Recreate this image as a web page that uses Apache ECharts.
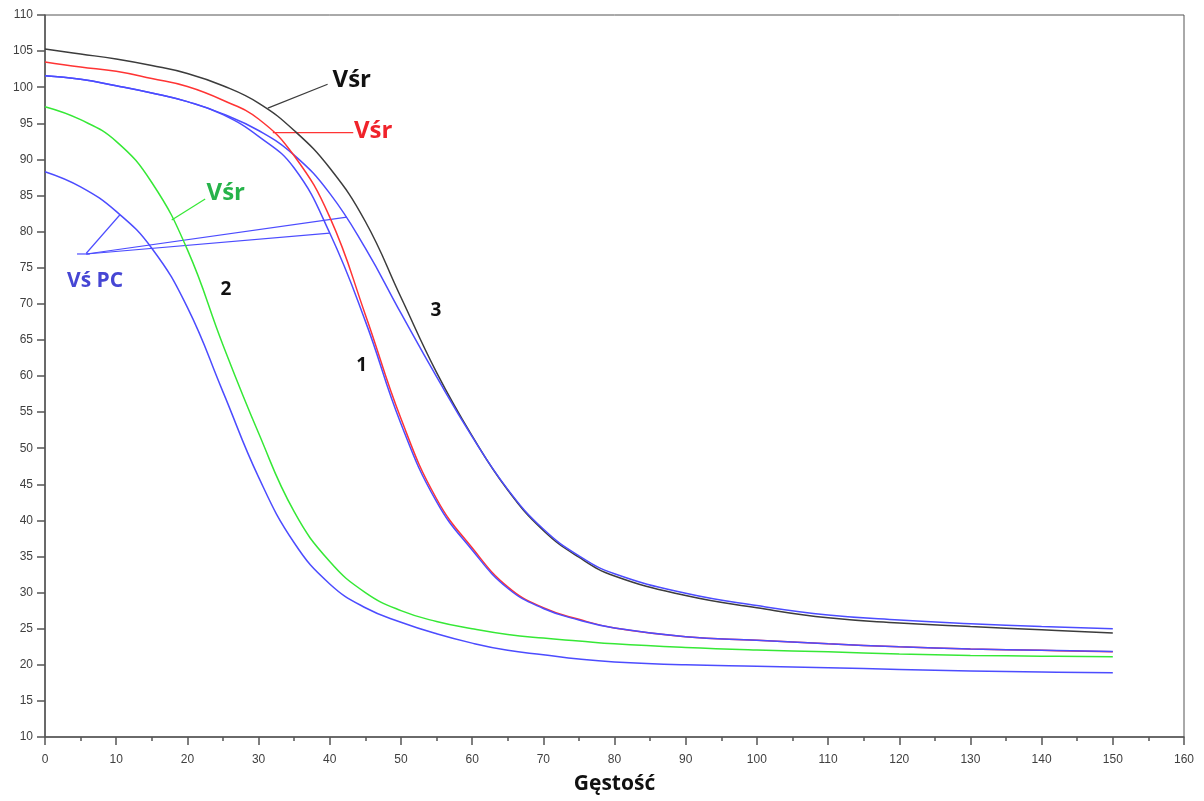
<!DOCTYPE html>
<html>
<head>
<meta charset="utf-8">
<title>Gęstość</title>
<script src="https://cdn.jsdelivr.net/npm/echarts@6/dist/echarts.min.js"></script>
<style>
  html, body { margin: 0; padding: 0; background: #fff; overflow: hidden; }
  #chart { width: 1204px; height: 801px; }
</style>
</head>
<body>
<div id="chart"></div>
<script>
// gęstość (x)
const xVals = [0, 5, 10, 15, 20, 25, 30, 35, 40, 45, 50, 55, 60, 65, 70, 75, 80, 90, 100, 110, 120, 130, 140, 150]

// curve 3
const vsr3 = [105.3, 104.6, 103.9, 103.0, 101.9, 100.2, 97.8, 94.0, 88.8, 81.4, 70.9, 60.5, 51.7, 44.2, 38.6, 34.9, 32.3, 29.6, 27.9, 26.5, 25.8, 25.3, 24.85, 24.4]
const vspc3 = [101.6, 101.1, 100.2, 99.2, 98.0, 96.3, 94.0, 90.6, 85.3, 77.7, 68.7, 59.9, 51.6, 44.3, 38.8, 35.1, 32.6, 29.9, 28.2, 26.9, 26.2, 25.7, 25.3, 25.0]
// curve 1
const vsr1 = [103.5, 102.8, 102.2, 101.2, 100.1, 98.2, 95.6, 90.5, 82.0, 68.5, 54.1, 43.0, 36.2, 30.8, 27.9, 26.3, 25.1, 23.9, 23.4, 22.9, 22.5, 22.2, 22.0, 21.8]
const vspc1 = [101.6, 101.1, 100.2, 99.2, 98.0, 96.2, 93.2, 88.8, 79.8, 67.6, 53.4, 42.6, 35.9, 30.6, 27.8, 26.2, 25.1, 23.9, 23.4, 22.9, 22.5, 22.2, 22.0, 21.85]
// curve 2
const vsr2 = [97.3, 95.5, 92.5, 86.8, 77.5, 64.3, 52.1, 41.2, 34.3, 30.0, 27.5, 26.0, 25.0, 24.2, 23.7, 23.3, 22.9, 22.4, 22.05, 21.8, 21.5, 21.3, 21.2, 21.1]
const vspc2 = [88.3, 86.2, 82.8, 77.7, 69.5, 57.8, 46.0, 36.9, 31.2, 27.9, 25.9, 24.3, 23.0, 22.0, 21.4, 20.8, 20.4, 20.0, 19.8, 19.6, 19.35, 19.15, 19.0, 18.9]

const BLACK = '#3c3c3c'
const RED = '#ff3434'
const BLUE = '#4c4cff'
const GREEN = '#36e836'

const pairs = ys => xVals.map((x, i) => [x, ys[i]])

function curve(name, ys, color) {
    return {
        name: name,
        type: 'line',
        data: pairs(ys),
        showSymbol: false,
        smooth: 0.45,
        lineStyle: { color: color, width: 1.5 },
        silent: true
    }
}

const axisFont = { color: '#3f3f3f', fontSize: 12, fontFamily: 'Liberation Sans' }

const option = {
    animation: false,
    backgroundColor: '#fff',
    grid: { left: 45, top: 15, width: 1139, height: 722, show: true, borderColor: '#555', borderWidth: 1 },
    xAxis: {
        type: 'value',
        min: 0, max: 160, interval: 10,
        name: 'Gęstość',
        nameLocation: 'middle',
        nameGap: 37,
        nameTextStyle: { fontSize: 21, fontWeight: 'bold', color: '#111', fontFamily: 'Open Sans' },
        axisLine: { lineStyle: { color: '#555', width: 1.5 } },
        axisTick: { length: 8, lineStyle: { color: '#555', width: 1.5 } },
        minorTick: { show: true, splitNumber: 2, length: 4, lineStyle: { color: '#555', width: 1.5 } },
        axisLabel: Object.assign({ margin: 17 }, axisFont),
        splitLine: { show: false }
    },
    yAxis: {
        type: 'value',
        min: 10, max: 110, interval: 5,
        axisLine: { show: true, lineStyle: { color: '#555', width: 1.5 } },
        axisTick: { show: true, length: 8, lineStyle: { color: '#555', width: 1.5 } },
        axisLabel: Object.assign({ margin: 12 }, axisFont),
        splitLine: { show: false }
    },
    series: [
        curve('Vśr 3', vsr3, BLACK),
        curve('Vś PC 3', vspc3, BLUE),
        curve('Vśr 1', vsr1, RED),
        curve('Vś PC 1', vspc1, BLUE),
        curve('Vśr 2', vsr2, GREEN),
        curve('Vś PC 2', vspc2, BLUE)
    ]
}

const chart = echarts.init(document.getElementById('chart'))
chart.setOption(option)

// annotations, anchored in data coordinates
const leaders = [
    { color: BLACK, from: [31.3, 97.1], to: [39.7, 100.4] },
    { color: RED, from: [32.0, 93.7], to: [43.3, 93.7] },
    { color: GREEN, from: [17.8, 81.6], to: [22.5, 84.5] },
    { color: BLUE, from: [4.5, 76.9], to: [6.3, 76.9] },
    { color: BLUE, from: [5.8, 77.0], to: [10.5, 82.3] },
    { color: BLUE, from: [5.8, 76.9], to: [42.4, 82.0] },
    { color: BLUE, from: [5.8, 76.9], to: [40.0, 79.8] }
]
const labels = [
    { text: 'Vśr', at: [40.4, 101.0], color: '#111', size: 24, align: 'left' },
    { text: 'Vśr', at: [43.4, 93.9], color: '#f0232b', size: 24, align: 'left' },
    { text: 'Vśr', at: [22.7, 85.3], color: '#26b34a', size: 24, align: 'left' },
    { text: 'Vś PC', at: [3.1, 73.2], color: '#4646d4', size: 21, align: 'left' },
    { text: '1', at: [44.5, 61.4], color: '#111', size: 19, align: 'center' },
    { text: '2', at: [25.4, 71.9], color: '#111', size: 19, align: 'center' },
    { text: '3', at: [54.9, 69.1], color: '#111', size: 19, align: 'center' }
]

const toPx = pt => chart.convertToPixel({ gridIndex: 0 }, pt)

const graphic = []
leaders.forEach(l => {
    const a = toPx(l.from), b = toPx(l.to)
    graphic.push({
        type: 'line',
        silent: true,
        shape: { x1: a[0], y1: a[1], x2: b[0], y2: b[1] },
        style: { stroke: l.color, lineWidth: 1.2 }
    })
})
labels.forEach(t => {
    const p = toPx(t.at)
    graphic.push({
        type: 'text',
        silent: true,
        x: p[0], y: p[1],
        style: {
            text: t.text,
            fill: t.color,
            font: 'bold ' + t.size + 'px "Open Sans", sans-serif',
            textAlign: t.align,
            textVerticalAlign: 'middle'
        }
    })
})
chart.setOption({ graphic: graphic })
</script>
</body>
</html>
